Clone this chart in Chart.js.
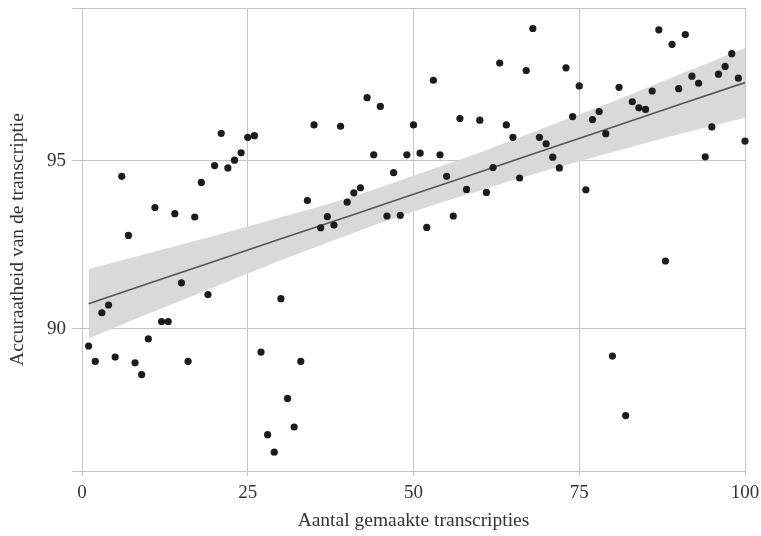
<html>
<head>
    <title>Accuraatheid van de transcriptie</title>
    <script src="https://cdn.jsdelivr.net/npm/chart.js"></script>
    <style>
        body { margin: 0; background: #ffffff; }
    </style>
</head>
<body>
<div>
    <canvas id="graph" width="761" height="536" role="img"></canvas>
</div>
<script>
    const transcripts = [1, 2, 3, 4, 5, 6, 7, 8, 9, 10, 11, 12, 13, 14, 15, 16, 17, 18, 19, 20,
        21, 22, 23, 24, 25, 26, 27, 28, 29, 30, 31, 32, 33, 34, 35, 36, 37, 38, 39, 40,
        41, 42, 43, 44, 45, 46, 47, 48, 49, 50, 51, 52, 53, 54, 55, 56, 57, 58, 60,
        61, 62, 63, 64, 65, 66, 67, 68, 69, 70, 71, 72, 73, 74, 75, 76, 77, 78, 79, 80,
        81, 82, 83, 84, 85, 86, 87, 88, 89, 90, 91, 92, 93, 94, 95, 96, 97, 98, 99, 100];
    const accuracy = [89.48, 89.02, 90.47, 90.70, 89.15, 94.53, 92.77, 88.98, 88.63, 89.69,
        93.60, 90.21, 90.21, 93.42, 91.36, 89.02, 93.32, 94.35, 91.01, 94.85,
        95.81, 94.78, 95.01, 95.23, 95.69, 95.74, 89.30, 86.84, 86.32, 90.89,
        87.92, 87.07, 89.02, 93.81, 96.06, 93.00, 93.33, 93.08, 96.02, 93.76,
        94.04, 94.19, 96.87, 95.17, 96.61, 93.35, 94.64, 93.37, 95.17, 96.06,
        95.22, 93.01, 97.39, 95.17, 94.53, 93.35, 96.25, 94.14, 96.20,
        94.05, 94.79, 97.90, 96.06, 95.69, 94.48, 97.68, 98.93, 95.69, 95.50,
        95.10, 94.78, 97.76, 96.31, 97.22, 94.13, 96.22, 96.46, 95.80, 89.18,
        97.18, 87.41, 96.75, 96.57, 96.52, 97.07, 98.89, 92.01, 98.46, 97.14,
        98.75, 97.51, 97.30, 95.11, 96.00, 97.57, 97.80, 98.18, 97.45, 95.58];

    const fitX = [1, 10, 20, 30, 40, 50, 60, 70, 80, 90, 100];
    const fitY = [90.74, 91.34, 92.00, 92.67, 93.33, 94.00, 94.66, 95.33, 95.99, 96.66, 97.32];
    const bandUpper = [91.77, 92.24, 92.76, 93.31, 93.88, 94.55, 95.24, 96.00, 96.75, 97.55, 98.35];
    const bandLower = [89.71, 90.44, 91.24, 92.03, 92.78, 93.48, 94.11, 94.70, 95.25, 95.78, 96.27];

    const xTicks = [0, 25, 50, 75, 100];
    const yTicks = [90, 95];

    function to_points(xs, ys) {
        return xs.map(function (x, i) { return {x: x, y: ys[i]}; });
    }

    const font_name = "'Liberation Serif', 'DejaVu Serif', serif";
    const grid_color = '#c4c4c4';
    const y_min = 85.76;
    const y_max = 99.54;

    const data = {
        datasets: [{
            label: 'transcripties',
            data: to_points(transcripts, accuracy),
            backgroundColor: '#1c1c1c',
            borderColor: '#1c1c1c',
            pointRadius: 3.6,
            borderWidth: 0,
            clip: false,
            order: 1
        }, {
            label: 'trend',
            data: to_points(fitX, fitY),
            showLine: true,
            borderColor: '#555555',
            borderWidth: 1.6,
            pointRadius: 0,
            fill: false,
            order: 2
        }, {
            label: 'band boven',
            data: to_points(fitX, bandUpper),
            showLine: true,
            borderWidth: 0,
            borderColor: 'rgba(0,0,0,0)',
            backgroundColor: '#d9d9d9',
            pointRadius: 0,
            cubicInterpolationMode: 'monotone',
            fill: '+1',
            order: 3
        }, {
            label: 'band onder',
            data: to_points(fitX, bandLower),
            showLine: true,
            borderWidth: 0,
            borderColor: 'rgba(0,0,0,0)',
            pointRadius: 0,
            cubicInterpolationMode: 'monotone',
            fill: false,
            order: 4
        }]
    };

    const config = {
        type: 'scatter',
        data: data,
        options: {
            responsive: false,
            animation: false,
            layout: {
                padding: {top: 8, right: 16, left: 0, bottom: 0}
            },
            plugins: {
                legend: {display: false},
                tooltip: {enabled: false}
            },
            scales: {
                x: {
                    type: 'linear',
                    min: 0,
                    max: 100,
                    afterBuildTicks: function (scale) {
                        scale.ticks = xTicks.map(function (v) { return {value: v}; });
                    },
                    afterFit: function (scale) {
                        scale.height = 65;
                        scale.paddingLeft = 0;
                        scale.paddingRight = 0;
                    },
                    border: {display: false},
                    grid: {color: grid_color, lineWidth: 1, tickLength: 5},
                    ticks: {
                        color: '#333333',
                        padding: 6,
                        font: {family: font_name, size: 19}
                    },
                    title: {
                        display: true,
                        text: 'Aantal gemaakte transcripties',
                        color: '#333333',
                        padding: {top: 4, bottom: 3},
                        font: {family: font_name, size: 19.5}
                    }
                },
                y: {
                    type: 'linear',
                    min: y_min,
                    max: y_max,
                    afterBuildTicks: function (scale) {
                        scale.ticks = [y_min].concat(yTicks, [y_max]).map(function (v) { return {value: v}; });
                    },
                    afterFit: function (scale) {
                        scale.width = 82;
                        scale.paddingTop = 0;
                        scale.paddingBottom = 0;
                    },
                    border: {display: false},
                    grid: {color: grid_color, lineWidth: 1, tickLength: 10},
                    ticks: {
                        color: '#333333',
                        padding: 6,
                        font: {family: font_name, size: 19},
                        callback: function (value) {
                            return yTicks.indexOf(value) >= 0 ? value : '';
                        }
                    },
                    title: {
                        display: true,
                        text: 'Accuraatheid van de transcriptie',
                        color: '#333333',
                        padding: {top: 6, bottom: 0},
                        font: {family: font_name, size: 19.5}
                    }
                }
            }
        }
    };

    const myChart = new Chart(document.getElementById('graph'), config);
</script>
</body>
</html>
